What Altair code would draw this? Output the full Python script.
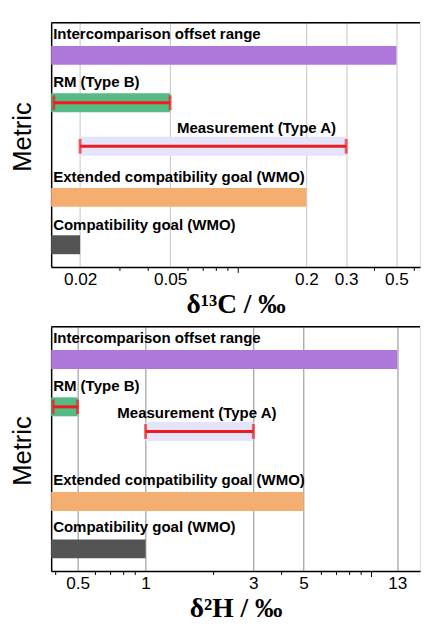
import altair as alt
import pandas as pd

# ---------------- data ----------------
metrics = ["Intercomparison offset range", "RM (Type B)", "Measurement (Type A)",
           "Extended compatibility goal (WMO)", "Compatibility goal (WMO)"]
colors = ["#ae77da", "#57b983", "#e4e4fb", "#f4ae70", "#545454"]

# delta 13C panel
c_domain = [0.0149, 0.636]
c_start = [0.0149, 0.0149, 0.02, 0.0149, 0.0149]
c_end = [0.5, 0.05, 0.3, 0.2, 0.02]
c_row = [4, 3, 2.08, 1, 0]
c_label_row = [4.45, 3.43, 2.47, 1.43, 0.42]
c_label_x = [0.0149, 0.0149, 0.0525, 0.0149, 0.0149]
c_err_lo = [0.0153, 0.02]
c_err_hi = [0.05, 0.3]
c_err_row = [3, 2.08]
c_ticks = [0.02, 0.05, 0.2, 0.3, 0.5]
c_minor = [0.03, 0.04, 0.06, 0.07, 0.08, 0.09, 0.4, 0.6]
c_decade = [0.1]

# delta 2H panel
h_domain = [0.382, 16.4]
h_start = [0.382, 0.382, 1, 0.382, 0.382]
h_end = [13, 0.5, 3, 5, 1]
h_row = [4, 3, 2.48, 1, 0]
h_label_row = [4.46, 3.44, 2.87, 1.45, 0.45]
h_label_x = [0.382, 0.382, 0.735, 0.382, 0.382]
h_err_lo = [0.39, 1]
h_err_hi = [0.5, 3]
h_err_row = [3, 2.48]
h_ticks = [0.5, 1, 3, 5, 13]
h_minor = [0.4, 0.6, 0.7, 0.8, 0.9, 2, 4, 6, 7, 8, 9]
h_decade = [10]

err_metrics = ["RM (Type B)", "Measurement (Type A)"]

W = 376
H = 249
RED = "#ee1c1c"


def panel(domain, start, end, row, label_row, label_x, err_lo, err_hi, err_row,
          ticks, minor, decade, title, grid_color, ytitle_y):
    bars_df = pd.DataFrame({"metric": metrics, "start": start, "end": end, "row": row})
    lab_df = pd.DataFrame({"metric": metrics, "lx": label_x, "ly": label_row})
    err_df = pd.DataFrame({"metric": err_metrics, "lo": err_lo, "hi": err_hi, "row": err_row})
    minor_df = pd.DataFrame({"v": minor})
    dec_df = pd.DataFrame({"v": decade})

    xs = alt.Scale(type="log", domain=domain, nice=False)
    ys = alt.Scale(domain=[-0.47, 4.69], nice=False, zero=False)

    xaxis = alt.Axis(values=ticks, format="~g", tickSize=0, labelPadding=4,
                     grid=True, gridColor=grid_color, gridWidth=1,
                     domainColor="black", domainWidth=1.5, labelOverlap=False,
                     labelFont="Liberation Sans", labelFontSize=17.5, labelColor="black",
                     title=title, titleFont="Liberation Serif", titleFontSize=28,
                     titleFontWeight="bold", titleColor="black", titlePadding=3)
    yaxis = alt.Axis(title="Metric", labels=False, ticks=False, grid=False,
                     domainColor="black", domainWidth=1.5,
                     titleFont="Liberation Sans", titleFontSize=26,
                     titleFontWeight="normal", titleColor="black", titlePadding=16,
                     titleY=ytitle_y)

    def X(f):
        return alt.X(f, scale=xs, axis=xaxis)

    def Y(f):
        return alt.Y(f, scale=ys, axis=yaxis)

    bars = alt.Chart(bars_df).transform_calculate(
        lo="datum.row - 0.2", hi="datum.row + 0.2"
    ).mark_bar().encode(
        x=X("start:Q"),
        x2="end:Q",
        y=Y("lo:Q"),
        y2="hi:Q",
        color=alt.Color("metric:N", scale=alt.Scale(domain=metrics, range=colors), legend=None),
    )

    err = alt.Chart(err_df).mark_rule(color=RED, strokeWidth=3).encode(
        x=X("lo:Q"), x2="hi:Q", y=Y("row:Q"),
    )
    caps = alt.Chart(err_df).transform_fold(["lo", "hi"], as_=["end", "v"]).mark_tick(
        orient="vertical", size=15, thickness=3, color=RED
    ).encode(x=X("v:Q"), y=Y("row:Q"))

    labels = alt.Chart(lab_df).mark_text(
        align="left", baseline="middle", dx=2, font="Liberation Sans",
        fontWeight="bold", fontSize=15.3, color="black"
    ).encode(x=X("lx:Q"), y=Y("ly:Q"), text="metric:N")

    minor_t = alt.Chart(minor_df).mark_rule(color="black", strokeWidth=1).encode(
        x=X("v:Q"), y=alt.value(H), y2=alt.value(H + 4)
    )
    dec_t = alt.Chart(dec_df).mark_rule(color="black", strokeWidth=1).encode(
        x=X("v:Q"), y=alt.value(H), y2=alt.value(H + 6)
    )
    top_border = alt.Chart(dec_df).mark_rule(color="black", strokeWidth=1.5).encode(
        x=alt.value(0), x2=alt.value(W), y=alt.value(0)
    )

    return alt.layer(bars, err, caps, labels, minor_t, dec_t, top_border).properties(
        width=W, height=H
    )


top = panel(c_domain, c_start, c_end, c_row, c_label_row, c_label_x,
            c_err_lo, c_err_hi, c_err_row, c_ticks, c_minor, c_decade,
            "δ¹³C / ‰", "#c4c4c4", 116)
bottom = panel(h_domain, h_start, h_end, h_row, h_label_row, h_label_x,
               h_err_lo, h_err_hi, h_err_row, h_ticks, h_minor, h_decade,
               "δ²H / ‰", "#8a8a8a", 126)

chart = alt.vconcat(top, bottom, spacing=6).properties(
    padding={"left": 1, "top": 7, "right": 0, "bottom": 0}
).configure_view(stroke=None).configure(background="white")

chart.save("out.html", embed_options={"renderer": "svg", "actions": False})
